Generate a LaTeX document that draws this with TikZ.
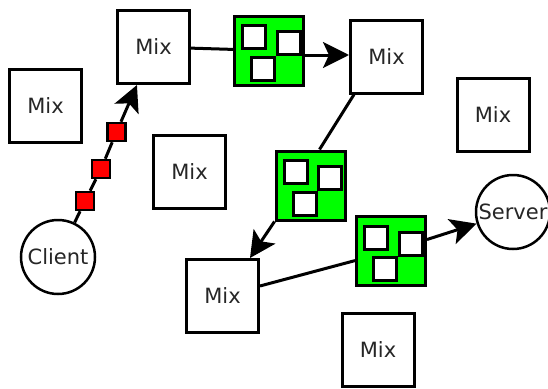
\documentclass[tikz,border=0pt]{standalone}
\usepackage{fontspec}
\setmainfont{DejaVu Sans}
\usetikzlibrary{arrows.meta,calc}
\newcommand\pktbox[2]{%
  \node[pkt] (#1) at (#2) {};
  \node[cell] (#1a) at ($(#1)+(-15,-13.5)$) {};
  \node[cell] (#1b) at ($(#1)+(19.5,-7.5)$) {};
  \node[cell] (#1c) at ($(#1)+(-6,18)$) {};
}
\begin{document}
\begin{tikzpicture}[x=1pt,y=-1pt,
  lbl/.style={font=\fontsize{21}{25}\selectfont,text=black!85},
  mix/.style={lbl,draw,line width=3pt,minimum width=72pt,minimum height=73pt,inner sep=0pt,fill=white},
  host/.style={lbl,draw,circle,line width=2.5pt,minimum size=74pt,inner sep=0pt,fill=white},
  pkt/.style={draw,line width=3pt,fill=green,minimum size=69pt,inner sep=0pt},
  cell/.style={draw,line width=3pt,fill=white,minimum size=23pt,inner sep=0pt},
  tok/.style={draw,line width=2.5pt,fill=red,minimum size=18pt,inner sep=0pt},
  link/.style={line width=3pt},
  arr/.style={link,-{Stealth[length=26pt 0 0,width=26pt 0 0,inset=6pt 0 0]}}
]
\useasboundingbox[fill=white] (0,0) rectangle (548,388);
% mixes
\node[mix] (m1) at (153.5,47) {Mix};
\node[mix] (m2) at (386.5,56.5) {Mix};
\node[mix] (m3) at (45.5,105.5) {Mix};
\node[mix] (m4) at (189.5,172) {Mix};
\node[mix] (m5) at (493,114.5) {Mix};
\node[mix] (m6) at (222.5,296) {Mix};
\node[mix] (m7) at (378,350) {Mix};
% hosts
\node[host] (client) at (58,257) {Client};
\node[host] (server) at (513,212) {Server};
% packets
\pktbox{p1}{269,50.5}
\pktbox{p2}{310.5,185.5}
\pktbox{p3}{391,251}
% tokens
\node[tok] (r1) at (85,201) {};
\node[tok] (r2) at (101,169) {};
\node[tok] (r3) at (116.5,132) {};
% connectors
\draw[link] (client) -- (r1);
\draw[link] (r1) -- (r2);
\draw[link] (r2) -- (r3);
\draw[arr] (r3) -- (m1);
\draw[link] (m1) -- (p1);
\draw[arr] ([yshift=-4.5pt]p1.east) -- ([yshift=-4.5pt]p1.east -| m2.west);
\draw[link] ([xshift=5pt]m2.south west) -- ([xshift=9pt]p2.north);
\draw[arr] (p2.south west) -- ([xshift=-10pt]m6.north east);
\draw[link] (m6) -- (p3);
\draw[arr] (p3) -- (server);
\end{tikzpicture}
\end{document}
